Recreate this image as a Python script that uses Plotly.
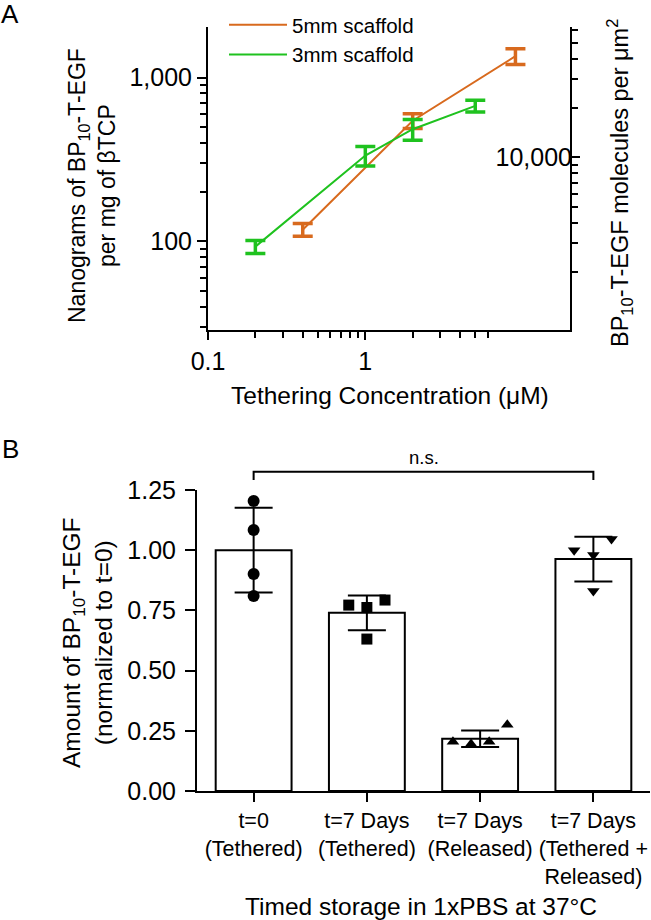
import plotly.graph_objects as go

# ---------------- Panel A data ----------------
conc_5mm = [0.4, 2, 9]
ng_5mm = [118, 545, 1350]
ng_5mm_err = [10.5, 57, 150]

conc_3mm = [0.2, 1, 2, 5]
ng_3mm = [93, 334, 484, 672]
ng_3mm_err = [8.5, 45, 70, 55]

x_ticks_A = [0.1, 1, 10]
x_ticktext_A = ["0.1", "1", "10"]
y_ticks_A = [100, 1000]
y_ticktext_A = ["100", "1,000"]
y2_ticks_A = [10000]
y2_ticktext_A = ["10,000"]

# ---------------- Panel B data ----------------
categories_B = ["t=0<br>(Tethered)", "t=7 Days<br>(Tethered)",
                "t=7 Days<br>(Released)", "t=7 Days<br>(Tethered +<br>Released)"]
means_B = [1.00, 0.74, 0.217, 0.963]
sds_B = [0.176, 0.072, 0.034, 0.093]

pts_t0 = [1.204, 1.084, 0.901, 0.81]
pts_t7_tethered = [0.772, 0.762, 0.793, 0.631]
pts_t7_released = [0.205, 0.195, 0.205, 0.275]
pts_t7_total = [1.0, 0.98, 1.047, 0.831]

jitter_t0 = [0, 0, 0, 0]
jitter_t7_tethered = [-0.16, 0, 0.16, 0]
jitter_t7_released = [-0.24, -0.08, 0.08, 0.24]
jitter_t7_total = [-0.17, 0, 0.16, 0]

ORANGE = "#D86A1E"
GREEN = "#1FC21F"
FONT = "Liberation Sans, Arial, sans-serif"

fig = go.Figure()

# Panel A traces
fig.add_trace(go.Scatter(
    x=conc_5mm, y=ng_5mm, mode="lines", name="5mm scaffold",
    line=dict(color=ORANGE, width=2),
    error_y=dict(type="data", array=ng_5mm_err, color=ORANGE, thickness=3.5, width=10),
    xaxis="x", yaxis="y"))
fig.add_trace(go.Scatter(
    x=conc_3mm, y=ng_3mm, mode="lines", name="3mm scaffold",
    line=dict(color=GREEN, width=2),
    error_y=dict(type="data", array=ng_3mm_err, color=GREEN, thickness=3.5, width=10),
    xaxis="x", yaxis="y"))
# invisible trace to activate the right axis
fig.add_trace(go.Scatter(x=[1], y=[10000], mode="markers", marker=dict(opacity=0),
                         showlegend=False, hoverinfo="skip", xaxis="x", yaxis="y2"))

# Panel B traces
cat_idx = list(range(len(categories_B)))
fig.add_trace(go.Bar(
    x=cat_idx, y=means_B, width=0.67, showlegend=False,
    marker=dict(color="white", line=dict(color="black", width=2)),
    error_y=dict(type="data", array=sds_B, color="black", thickness=2, width=19),
    xaxis="x2", yaxis="y3"))

groups = [(pts_t0, jitter_t0, "circle"),
          (pts_t7_tethered, jitter_t7_tethered, "square"),
          (pts_t7_released, jitter_t7_released, "triangle-up"),
          (pts_t7_total, jitter_t7_total, "triangle-down")]
for i, (vals, jit, sym) in enumerate(groups):
    fig.add_trace(go.Scatter(
        x=[i + j for j in jit], y=vals, mode="markers", showlegend=False,
        marker=dict(symbol=sym, size=12 if sym == "circle" else 11, color="black"),
        cliponaxis=False, xaxis="x2", yaxis="y3"))

W, H = 651, 920
def px(x):
    return x / W
def py(y):
    return 1 - y / H

axis_common = dict(showline=True, linecolor="black", linewidth=2, ticks="outside",
                   tickcolor="black", tickwidth=2, showgrid=False, zeroline=False,
                   automargin=False, tickfont=dict(size=25, color="black", family=FONT))

minor_x = [0.2, 0.3, 0.4, 0.5, 0.6, 0.7, 0.8, 0.9, 2, 3, 4, 5, 6, 7, 8, 9, 20]
minor_y = [30, 40, 50, 60, 70, 80, 90, 200, 300, 400, 500, 600, 700, 800, 900]
minor_y2 = [2000, 3000, 4000, 5000, 6000, 7000, 8000, 9000, 20000, 30000, 40000, 50000, 60000]

yB_range = [0, 1.25]

fig.update_layout(
    width=W, height=H, margin=dict(l=0, r=0, t=0, b=0),
    paper_bgcolor="white", plot_bgcolor="white",
    font=dict(family=FONT, color="black"),
    xaxis=dict(axis_common, domain=[px(208), px(570)], anchor="y", type="log",
               range=[-1, 1.30103], tickmode="array", tickvals=x_ticks_A, ticktext=x_ticktext_A,
               ticklen=8,
               minor=dict(tickmode="array", tickvals=minor_x, ticks="outside", ticklen=6,
                          tickwidth=2, tickcolor="black")),
    yaxis=dict(axis_common, domain=[py(330), py(26.7)], anchor="x", type="log",
               range=[1.46, 3.31], tickmode="array", tickvals=y_ticks_A, ticktext=y_ticktext_A,
               ticklen=9,
               minor=dict(tickmode="array", tickvals=minor_y, ticks="outside", ticklen=6,
                          tickwidth=2, tickcolor="black")),
    yaxis2=dict(axis_common, overlaying="y", side="right", anchor="x", type="log",
                range=[2.947, 4.796], tickmode="array", tickvals=y2_ticks_A,
                ticktext=y2_ticktext_A, ticklabelposition="inside", ticklen=8,
                minor=dict(tickmode="array", tickvals=minor_y2, ticks="outside", ticklen=6,
                           tickwidth=2, tickcolor="black")),
    xaxis2=dict(axis_common, domain=[px(197), px(650)], anchor="y3", range=[-0.5, 3.5],
                tickmode="array", tickvals=cat_idx, ticktext=categories_B, ticklen=9,
                tickfont=dict(size=21.5, color="black", family=FONT)),
    yaxis3=dict(axis_common, domain=[py(791), py(490)], anchor="x2", range=yB_range,
                tickmode="array", tickvals=[0, 0.25, 0.5, 0.75, 1.0, 1.25],
                tickformat=".2f", ticklen=10, ticklabelstandoff=4),
    legend=dict(x=px(224), y=py(5), xanchor="left", yanchor="top",
                bgcolor="rgba(0,0,0,0)", font=dict(size=20.5, family=FONT, color="black"),
                itemwidth=58, tracegroupgap=0),
    showlegend=True,
)

def cat_dom(i):
    return (i + 0.5) / 4.0

def val_dom(v):
    return v / yB_range[1]

# significance bracket in panel B
bracket_top = 1.326
bracket_drop = 1.292
fig.add_shape(type="path", xref="x2 domain", yref="y3 domain",
              path=f"M{cat_dom(0)},{val_dom(bracket_drop)} L{cat_dom(0)},{val_dom(bracket_top)} "
                   f"L{cat_dom(3)},{val_dom(bracket_top)} L{cat_dom(3)},{val_dom(bracket_drop)}",
              line=dict(color="black", width=2))

C = dict(xanchor="center", yanchor="middle", showarrow=False)
annotations = [
    dict(C, text="n.s.", xref="x2 domain", yref="y3 domain", x=(cat_dom(1) + cat_dom(2)) / 2,
         y=val_dom(1.383), font=dict(size=18.5)),
    dict(C, text="A", xref="paper", yref="paper", x=px(10), y=py(14), font=dict(size=26)),
    dict(C, text="B", xref="paper", yref="paper", x=px(10), y=py(449), font=dict(size=26)),
    dict(C, text="Nanograms of BP<sub>10</sub>-T-EGF<br>per mg of βTCP", xref="paper", yref="paper",
         x=px(92), y=py(186), textangle=-90, font=dict(size=23)),
    dict(C, text="BP<sub>10</sub>-T-EGF molecules per μm<sup>2</sup>", xref="paper", yref="paper",
         x=px(619), y=py(183), textangle=-90, font=dict(size=23.5)),
    dict(C, text="Tethering Concentration (μM)", xref="paper", yref="paper",
         x=px(390), y=py(395), font=dict(size=24.5)),
    dict(C, text="Amount of BP<sub>10</sub>-T-EGF<br>(normalized to t=0)", xref="paper", yref="paper",
         x=px(87), y=py(643), textangle=-90, font=dict(size=24.5)),
    dict(C, text="Timed storage in 1xPBS at 37°C", xref="paper", yref="paper",
         x=px(421), y=py(906), font=dict(size=24.5)),
]
fig.update_layout(annotations=annotations)

fig.write_html("out.html", config={"displayModeBar": False},
               post_script="document.body.style.margin='0px';document.body.style.overflow='hidden';")
